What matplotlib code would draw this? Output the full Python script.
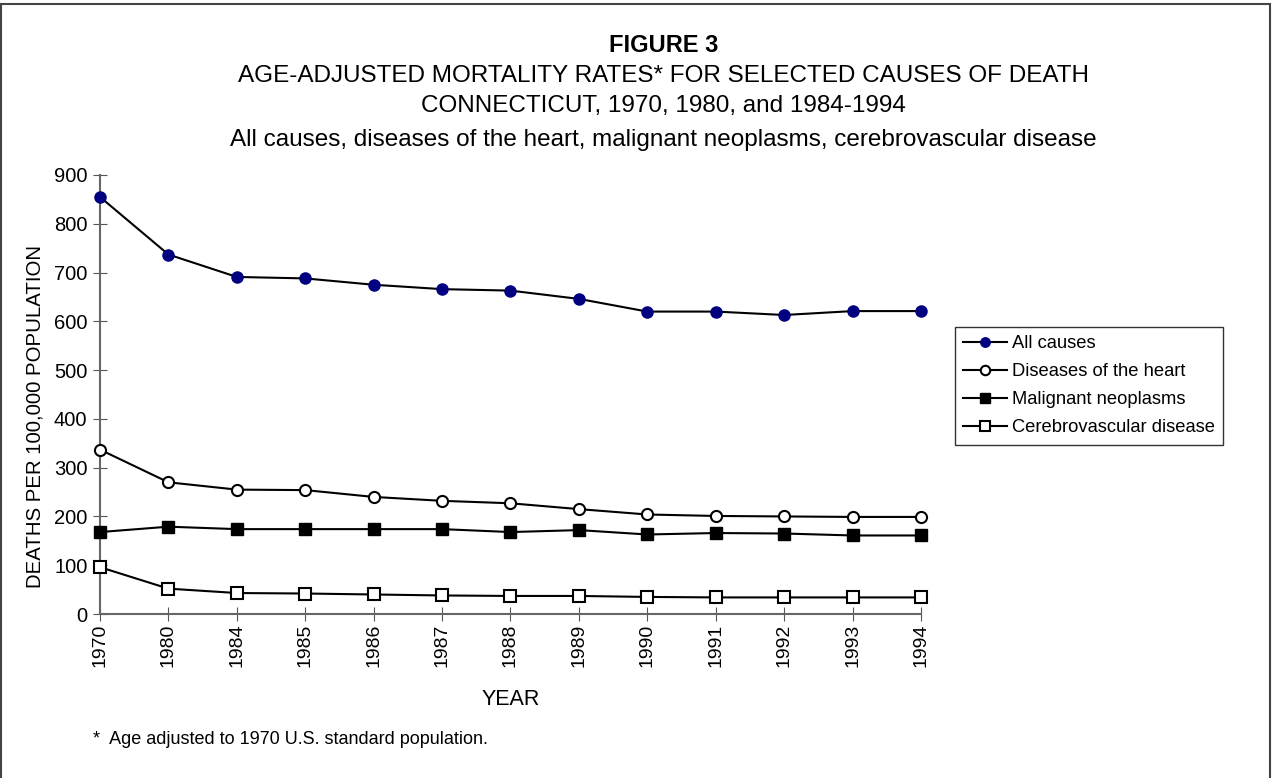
import matplotlib
matplotlib.use("Agg")
from matplotlib import pyplot as plt
from matplotlib.patches import Rectangle

plt.rcParams['font.family'] = ['Liberation Sans', 'DejaVu Sans']

years = ["1970", "1980", "1984", "1985", "1986", "1987", "1988",
         "1989", "1990", "1991", "1992", "1993", "1994"]
all_causes = [855, 737, 691, 688, 675, 666, 663, 646, 620, 620, 613, 621, 621]
heart = [337, 270, 255, 254, 240, 232, 227, 215, 204, 201, 200, 199, 199]
neoplasms = [168, 179, 174, 174, 174, 174, 168, 172, 163, 166, 165, 161, 161]
cerebro = [96, 52, 43, 42, 40, 38, 37, 37, 35, 34, 34, 34, 34]

series = [
    ("All causes", all_causes, dict(marker="o", mfc="#000080", mec="#000080", ms=8)),
    ("Diseases of the heart", heart, dict(marker="o", mfc="white", mec="black", ms=8, mew=1.5)),
    ("Malignant neoplasms", neoplasms, dict(marker="s", mfc="black", mec="black", ms=8)),
    ("Cerebrovascular disease", cerebro, dict(marker="s", mfc="white", mec="black", ms=8, mew=1.5)),
]

fig = plt.figure(figsize=(12.73, 7.78), dpi=100)
ax = fig.add_axes([100/1273, 1-614/778, (921-100)/1273, (614-175)/778])

x = list(range(len(years)))
for name, vals, style in series:
    ax.plot(x, vals, color="black", lw=1.5, label=name, clip_on=False, zorder=3, **style)

ax.set_xlim(0, len(years)-1)
ax.set_ylim(0, 900)
ax.set_yticks(range(0, 901, 100))
ax.set_xticks(x)
ax.set_xticklabels(years, rotation=90, fontsize=14)
ax.tick_params(axis="y", labelsize=14.5, direction="inout", length=10, color="#555555", pad=4)
ax.tick_params(axis="x", direction="inout", length=10, color="#555555", pad=2)
for s in ["top", "right"]:
    ax.spines[s].set_visible(False)
for s in ["left", "bottom"]:
    ax.spines[s].set_color("#666666")
    ax.spines[s].set_linewidth(1.5)

ax.set_ylabel("DEATHS PER 100,000 POPULATION", fontsize=14.7)
ax.yaxis.set_label_coords(-0.068, 0.45)
ax.set_xlabel("YEAR", fontsize=15.5, labelpad=16)

fig.text(0.521, 0.942, "FIGURE 3", ha="center", va="center", fontsize=17, fontweight="bold")
fig.text(0.521, 0.902, "AGE-ADJUSTED MORTALITY RATES* FOR SELECTED CAUSES OF DEATH",
         ha="center", va="center", fontsize=17.5)
fig.text(0.521, 0.864, "CONNECTICUT, 1970, 1980, and 1984-1994",
         ha="center", va="center", fontsize=17.5)
fig.text(0.521, 0.820, "All causes, diseases of the heart, malignant neoplasms, cerebrovascular disease",
         ha="center", va="center", fontsize=17.5)
fig.text(93/1273, 1-740/778, "*  Age adjusted to 1970 U.S. standard population.",
         ha="left", va="center", fontsize=13)

leg = fig.legend(loc="upper left", bbox_to_anchor=(955/1273, 1-327/778), fontsize=13.2,
                 frameon=True, fancybox=False, edgecolor="black", handlelength=2.4,
                 handletextpad=0.25, borderpad=0.45, labelspacing=0.6, borderaxespad=0,
                 markerscale=0.85)
leg.get_frame().set_linewidth(1.0)

fig.patches.append(Rectangle((1/1273, -0.01), 1269/1273, 1.01-4/778, transform=fig.transFigure,
                             fill=False, edgecolor="#444444", lw=1.5))

fig.savefig("out.png", dpi=100)
